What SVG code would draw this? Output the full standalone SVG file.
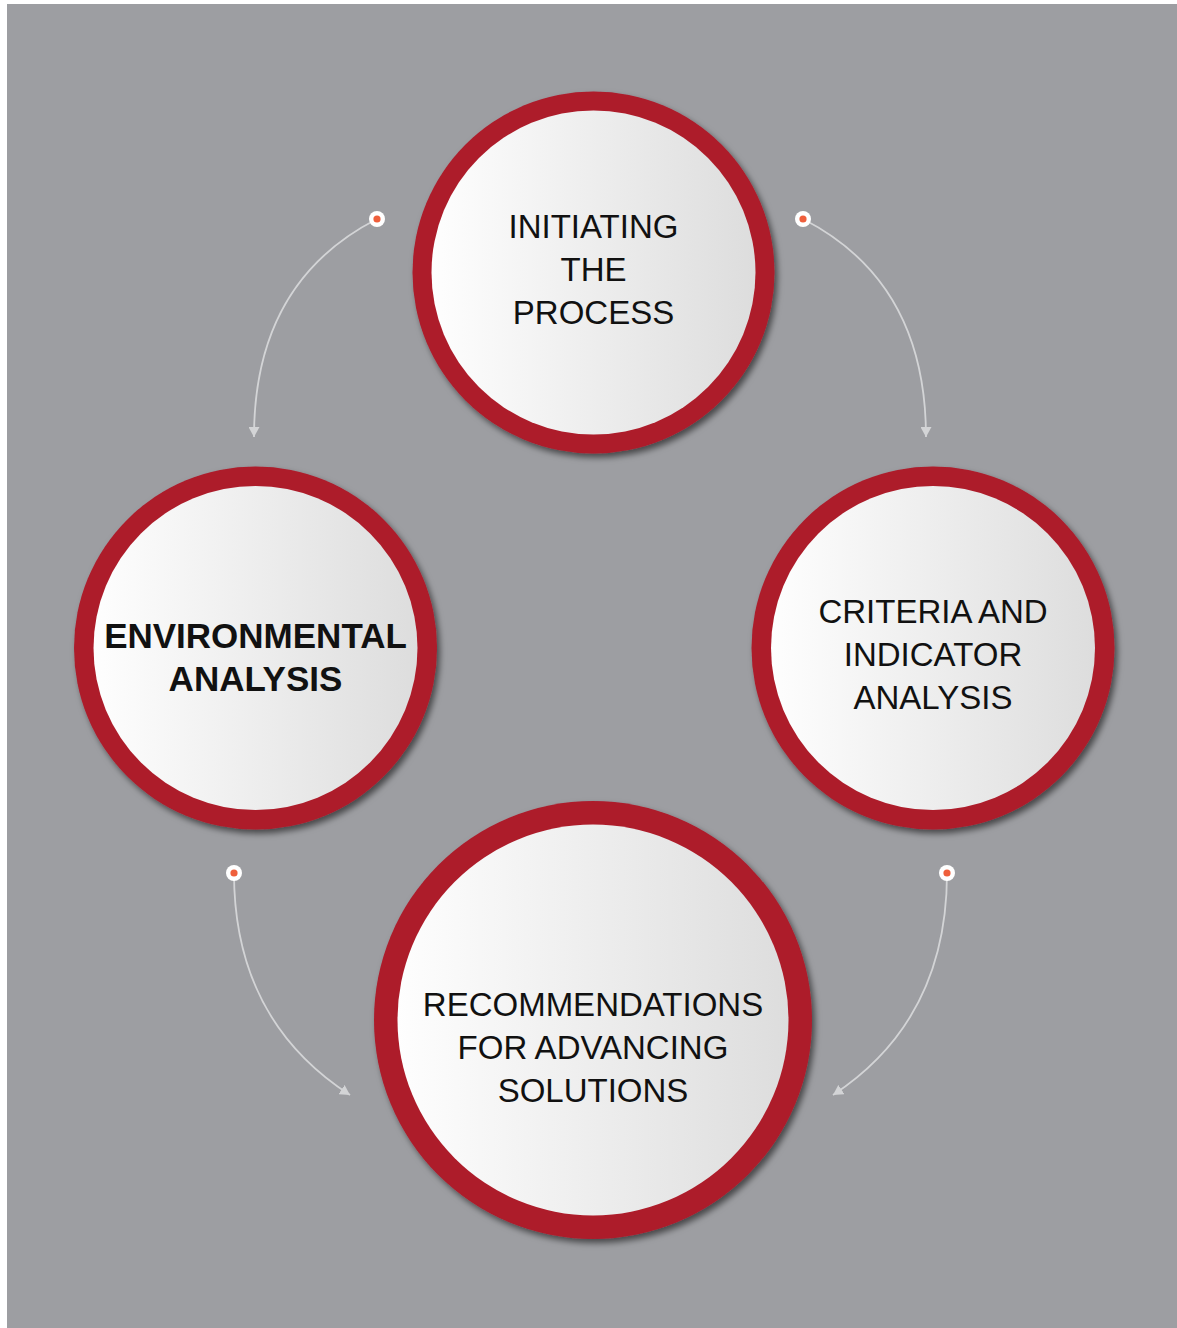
<svg xmlns="http://www.w3.org/2000/svg" width="1177" height="1328" viewBox="0 0 1177 1328">
  <defs>
    <linearGradient id="face" x1="0" y1="0" x2="1" y2="0">
      <stop offset="0" stop-color="#fefefe"/>
      <stop offset="1" stop-color="#dddddd"/>
    </linearGradient>
    <filter id="shadow" x="-20%" y="-20%" width="140%" height="140%">
      <feDropShadow dx="3" dy="4" stdDeviation="3" flood-color="#000" flood-opacity="0.55"/>
    </filter>
    <marker id="arrow" viewBox="0 0 10 11" refX="10" refY="5.5" markerWidth="10" markerHeight="11" markerUnits="userSpaceOnUse" orient="auto">
      <path d="M0,0 L10,5.5 L0,11 z" fill="#d3d4d6"/>
    </marker>
    <style>
      .ring { fill: #ad1b2b; filter: url(#shadow); }
      .face { fill: url(#face); }
      .label { font-family: "Liberation Sans", Arial, sans-serif; font-size: 33px; fill: #111; text-anchor: middle; }
      .bold { font-weight: bold; font-size: 35px; }
      .conn { fill: none; stroke: #d3d4d6; stroke-width: 1.8; marker-end: url(#arrow); }
      .dot-out { fill: #ffffff; }
      .dot-in { fill: #ef5f3c; }
    </style>
  </defs>

  <rect x="7" y="4" width="1170" height="1324" fill="#9d9ea2"/>

  <g id="connectors">
    <path class="conn" d="M377 219 Q 254 282 254 437"/>
    <path class="conn" d="M803 219 Q 926 282 926 437"/>
    <path class="conn" d="M234 873 Q 234 1020 350 1095"/>
    <path class="conn" d="M947 873 Q 947 1020 833 1095"/>
    <g id="dots">
      <circle class="dot-out" cx="377" cy="219" r="8"/>
      <circle class="dot-in" cx="377" cy="219" r="3.6"/>
      <circle class="dot-out" cx="803" cy="219" r="8"/>
      <circle class="dot-in" cx="803" cy="219" r="3.6"/>
      <circle class="dot-out" cx="234" cy="873" r="8"/>
      <circle class="dot-in" cx="234" cy="873" r="3.6"/>
      <circle class="dot-out" cx="947" cy="873" r="8"/>
      <circle class="dot-in" cx="947" cy="873" r="3.6"/>
    </g>
  </g>

  <g id="node-initiating">
    <circle class="ring" cx="593.5" cy="272.5" r="181"/>
    <circle class="face" cx="593.5" cy="272.5" r="162"/>
    <text class="label" x="593.5" y="238">INITIATING</text>
    <text class="label" x="593.5" y="281">THE</text>
    <text class="label" x="593.5" y="324">PROCESS</text>
  </g>

  <g id="node-environmental">
    <circle class="ring" cx="255.5" cy="648" r="181.5"/>
    <circle class="face" cx="255.5" cy="648" r="162"/>
    <text class="label bold" x="255.5" y="648">ENVIRONMENTAL</text>
    <text class="label bold" x="255.5" y="691">ANALYSIS</text>
  </g>

  <g id="node-criteria">
    <circle class="ring" cx="933" cy="648" r="181.5"/>
    <circle class="face" cx="933" cy="648" r="162"/>
    <text class="label" x="933" y="623">CRITERIA AND</text>
    <text class="label" x="933" y="666">INDICATOR</text>
    <text class="label" x="933" y="709">ANALYSIS</text>
  </g>

  <g id="node-recommendations">
    <circle class="ring" cx="593" cy="1020" r="219"/>
    <circle class="face" cx="593" cy="1020" r="195.5"/>
    <text class="label" x="593" y="1016">RECOMMENDATIONS</text>
    <text class="label" x="593" y="1059">FOR ADVANCING</text>
    <text class="label" x="593" y="1102">SOLUTIONS</text>
  </g>
</svg>
